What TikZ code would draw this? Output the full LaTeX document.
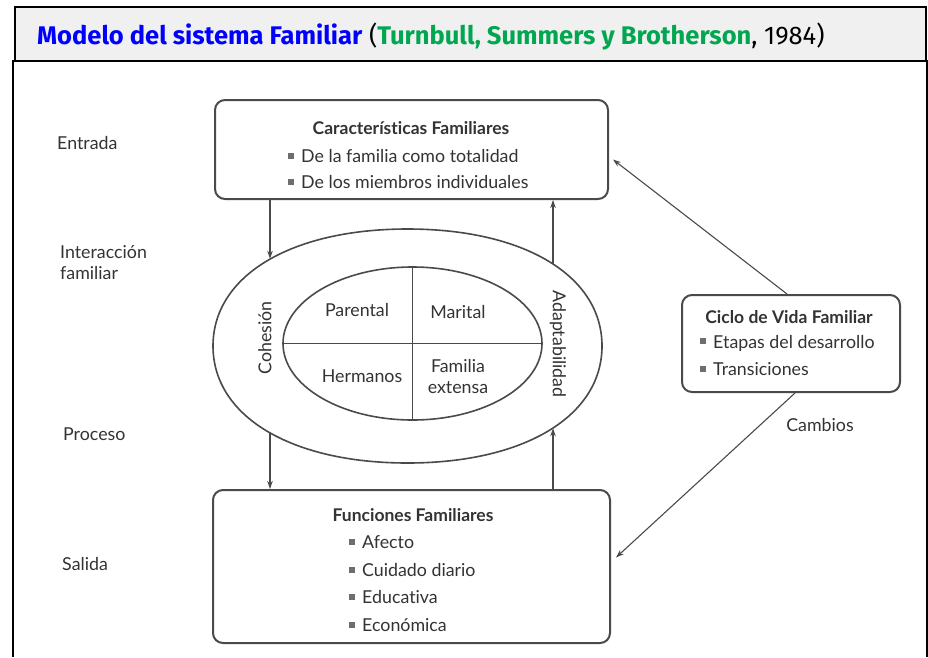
\documentclass[tikz,border=0pt]{standalone}
\usepackage{fontspec}
\setmainfont{Lato}[Ligatures=NoCommon]
\newfontfamily\headfont{Fira Sans}
\usetikzlibrary{arrows.meta,calc,shapes.geometric}
\definecolor{ink}{HTML}{333333}
\definecolor{rulegray}{HTML}{4A4A4A}
\definecolor{hblue}{HTML}{0000FF}
\definecolor{hgreen}{HTML}{00A650}
\definecolor{hgray}{HTML}{F0F0F0}
% small square bullet used in the lists
\newcommand\sqb{{\color{rulegray!80}\rule[0.2em]{6pt}{6pt}}\hspace{7pt}}
\begin{document}
\begin{tikzpicture}[x=1pt,y=-1pt,
  panel/.style={draw=rulegray, line width=2pt, rounded corners=10pt, fill=white, inner sep=0pt},
  txt/.style={text=ink, inner sep=0pt, font=\fontsize{17.8}{20}\selectfont},
  head/.style={txt, font=\fontsize{17.5}{20}\selectfont\bfseries},
  item/.style={txt, anchor=west},
  link/.style={draw=rulegray, line width=1.1pt, -{Stealth[length=8pt,width=5.5pt]}},
  sep/.style={draw=rulegray, line width=1.2pt},
]
\useasboundingbox (0,0) rectangle (928,657);
\fill[white] (0,0) rectangle (928,657);

% outer frame and title banner
\draw[line width=2pt] (13,657) -- (13,61) -- (927,61) -- (927,657);
\node[draw, line width=2pt, fill=hgray, minimum width=911pt, minimum height=54pt, inner sep=0pt] (banner) at (470.5,34) {};
\node[anchor=base west, inner sep=0pt, font=\headfont\fontsize{25.5}{28}\selectfont] (title) at (37,44)
  {\textbf{\color{hblue}Modelo del sistema Familiar} (\textbf{\color{hgreen}Turnbull, Summers y Brotherson}, 1984)};

% stage labels on the left
\node[txt, anchor=west] (entrada) at (57,143) {Entrada};
\node[txt, anchor=west, align=left, font=\fontsize{17.8}{21}\selectfont] (interaccion) at (60,262.5) {Interacción\\familiar};
\node[txt, anchor=west] (proceso) at (63,434) {Proceso};
\node[txt, anchor=west] (salida) at (62,564) {Salida};

% boxes
\node[panel, minimum width=393pt, minimum height=99pt] (carac) at (411.5,149.5) {};
\node[panel, minimum width=397pt, minimum height=153pt] (func) at (411.5,566.5) {};
\node[panel, minimum width=218pt, minimum height=97pt] (ciclo) at (791,343.5) {};

\node[head] (caracT) at (411,128) {Características Familiares};
\node[item] (carac1) at (288,156) {\sqb De la familia como totalidad};
\node[item] (carac2) at (288,182) {\sqb De los miembros individuales};

\node[head] (funcT) at (413,515) {Funciones Familiares};
\node[item] (func1) at (349,542) {\sqb Afecto};
\node[item] (func2) at (349,570) {\sqb Cuidado diario};
\node[item] (func3) at (349,597) {\sqb Educativa};
\node[item] (func4) at (349,625) {\sqb Económica};

\node[head] (cicloT) at (789,317) {Ciclo de Vida Familiar};
\node[item] (ciclo1) at (700,343) {\sqb Etapas del desarrollo};
\node[item] (ciclo2) at (700,369) {\sqb Transiciones};

\node[txt] (cambios) at (820,425) {Cambios};

% family interaction: outer oval and inner subsystems
\coordinate (oval) at (407.5,346);
\draw[rulegray, line width=1.6pt] (602,346) .. controls (602,416.2) and (524.2,463) .. (407.5,463)
  .. controls (290.8,463) and (213,416.2) .. (213,346)
  .. controls (213,275.8) and (290.8,229) .. (407.5,229)
  .. controls (524.2,229) and (602,275.8) .. (602,346) -- cycle;
\node[ellipse, draw=rulegray, line width=1.6pt, minimum width=259pt, minimum height=153pt, inner sep=0pt] (inner) at (412.5,343.5) {};
\draw[sep] (inner.north) -- (inner.south);
\draw[sep] (inner.west) -- (inner.east);

\node[txt] (parental) at (357,310) {Parental};
\node[txt] (marital) at (458,312) {Marital};
\node[txt] (hermanos) at (362,376) {Hermanos};
\node[txt, align=center, font=\fontsize{17.8}{21}\selectfont] (extensa) at (458,377) {Familia\\extensa};

\node[txt, rotate=90] (cohesion) at (265,338) {Cohesión};
\node[txt, rotate=-90] (adapt) at (558,344) {Adaptabilidad};

% points where the vertical links meet the oval
\coordinate (ovTL) at (270,258.8);
\coordinate (ovTR) at (553,263.7);
\coordinate (ovBL) at (270,433.2);
\coordinate (ovBR) at (553,428.3);

% links
\draw[link] (carac.south -| ovTL) -- (ovTL);
\draw[link] (ovTR) -- (carac.south -| ovTR);
\draw[link] (ovBL) -- (func.north -| ovBL);
\draw[link] (func.north -| ovBR) -- (ovBR);
\draw[link] ($(ciclo.north)+(-4,0)$) -- ($(carac.east)+(4,10)$);
\draw[link] ($(ciclo.south)+(4,0)$) -- ($(func.east)+(5,-9)$);
\end{tikzpicture}
\end{document}
